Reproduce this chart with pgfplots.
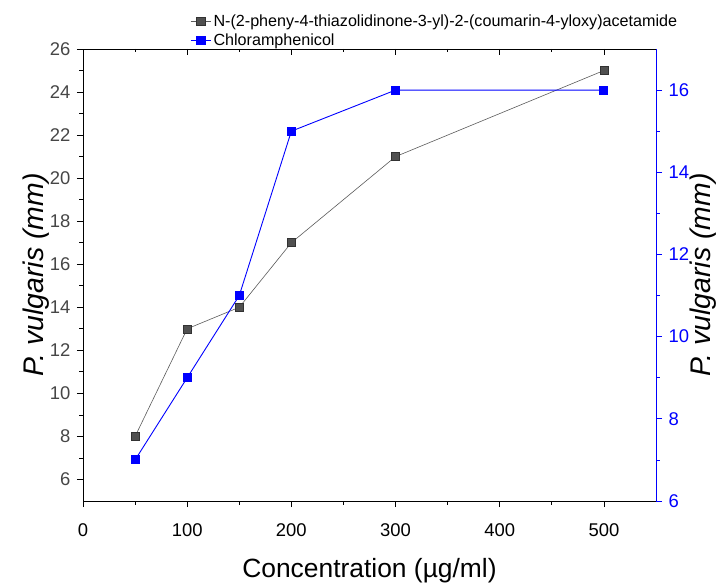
\documentclass[border=0pt]{standalone}
\usepackage{fontspec}
\setmainfont{Liberation Sans}
\usepackage{pgfplots}
\pgfplotsset{compat=1.18}
\definecolor{grayline}{RGB}{90,90,90}
\definecolor{graymark}{RGB}{80,80,80}
\definecolor{graydraw}{RGB}{50,50,50}
\definecolor{ticklab}{RGB}{70,70,70}

\begin{document}
\begin{tikzpicture}
\useasboundingbox (-83bp,-87bp) rectangle (641bp,501bp);
% left axis (and bottom)
\begin{axis}[
    at={(0,0)}, anchor=south west,
    scale only axis, width=573bp, height=452bp,
    xmin=0, xmax=550, ymin=5, ymax=26,
    xtick={0,100,...,500}, minor x tick num=1,
    ytick={6,8,...,26}, minor y tick num=1,
    xtick pos=bottom, ytick pos=left,
    tick align=outside,
    x tick style={black, line width=0.8pt},
    y tick style={black, line width=0.8pt},
    major tick length=6bp, minor tick length=3.5bp,
    axis line style={line width=0.9pt},
    xlabel={Concentration (µg/ml)},
    ylabel={\textit{P. vulgaris (mm)}},
    xlabel style={font=\fontsize{26.5}{29}\selectfont, yshift=-15bp},
    ylabel style={font=\fontsize{28.5}{31}\selectfont, yshift=-6bp},
    x tick label style={font=\fontsize{18.5}{20}\selectfont, yshift=-29bp, anchor=base},
    y tick label style={font=\fontsize{18.5}{20}\selectfont, text=ticklab, xshift=-3bp},
    /pgf/number format/assume math mode=true,
    legend style={at={(0.185,1)}, anchor=south west, yshift=-1bp, draw=none, fill=none,
        font=\fontsize{16.2}{18}\selectfont, row sep=1.5bp, inner sep=1bp},
    legend cell align=left,
    legend image post style={xscale=1.2},
]
\addplot[grayline, line width=0.6pt, mark=square*, mark size=4bp,
    mark options={fill=graymark, draw=graydraw, line width=0.5pt}]
    coordinates {(50,8) (100,13) (150,14) (200,17) (300,21) (500,25)};
\addlegendentry{N-(2-pheny-4-thiazolidinone-3-yl)-2-(coumarin-4-yloxy)acetamide}
\addlegendimage{blue, line width=0.9pt, mark=square*, mark size=4bp, mark options={fill=blue}}
\addlegendentry{Chloramphenicol}
% top axis ticks, pointing inward
\pgfplotsinvokeforeach{100,200,300,400,500}{
    \draw[black, line width=0.8pt] (axis cs:#1,26) -- ([yshift=-6bp]axis cs:#1,26);
}
\pgfplotsinvokeforeach{50,150,250,350,450}{
    \draw[black, line width=0.8pt] (axis cs:#1,26) -- ([yshift=-3.5bp]axis cs:#1,26);
}
\end{axis}
% right axis
\begin{axis}[
    at={(0,0)}, anchor=south west,
    scale only axis, width=573bp, height=452bp,
    xmin=0, xmax=550, ymin=6, ymax=17,
    axis x line=none,
    axis y line*=right,
    ytick={6,8,...,16}, minor y tick num=1,
    tick align=outside,
    y tick style={blue, line width=0.8pt},
    major tick length=6bp, minor tick length=3.5bp,
    y axis line style={blue, line width=0.9pt},
    ylabel={\textit{P. vulgaris (mm)}},
    ylabel style={font=\fontsize{28.5}{31}\selectfont, yshift=6bp},
    y tick label style={font=\fontsize{18.5}{20}\selectfont, text=blue, xshift=3bp},
    /pgf/number format/assume math mode=true,
]
\addplot[blue, line width=0.9pt, mark=square*, mark size=4bp, mark options={fill=blue}]
    coordinates {(50,7) (100,9) (150,11) (200,15) (300,16) (500,16)};
\end{axis}
\end{tikzpicture}
\end{document}
